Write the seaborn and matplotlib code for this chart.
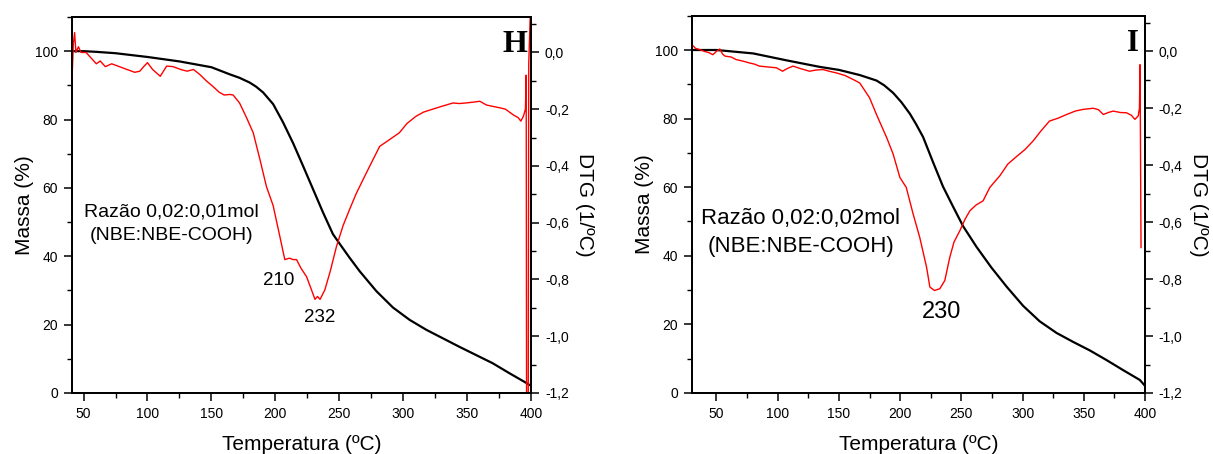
import matplotlib.pyplot as plt
import seaborn as sns
from matplotlib.ticker import MultipleLocator, FuncFormatter

# Panel H - TG (black, left axis) and DTG (red, right axis)
h_tg_temp = [41, 50, 60, 75, 100, 125, 150, 164.5, 172, 180, 185, 190.5, 198.3, 206,
             214, 221.7, 229.5, 237.3, 245, 250.4, 258, 266, 279, 292, 305, 318, 331,
             344, 357, 370, 383, 396, 399]
h_tg_mass = [100, 100, 99.8, 99.4, 98.3, 97, 95.3, 93.2, 92.2, 90.8, 89.6, 87.9, 84.5,
             79.2, 73.0, 66.4, 59.6, 52.8, 46.5, 43.6, 39.6, 35.6, 29.8, 25.0, 21.4,
             18.5, 16.0, 13.5, 11.1, 8.7, 5.8, 3.0, 2.3]

h_dtg_temp = [41, 42, 43, 44, 46, 48, 52, 56, 60, 63, 67, 72, 78, 84, 90, 94, 97, 100,
              104, 110, 115, 120, 126, 131, 136, 141, 146, 151, 156, 160, 164.5, 167,
              172, 177.5, 182.7, 188, 193, 198.3, 203.5, 207.4, 211, 214, 216.6, 220,
              224.4, 228.3, 231, 233, 235, 238.7, 243, 247.8, 253, 258, 263, 268.6,
              275, 281.6, 290, 297, 303, 310, 316, 323, 330, 339, 344, 349, 355, 360,
              365, 370, 375.6, 380, 385.8, 390, 392, 394, 395.6, 396.2, 396.5, 397.8,
              398.2, 399.5]
h_dtg_val = [-0.09, 0.03, 0.07, 0.0, 0.02, 0.0, 0.0, -0.02, -0.04, -0.03, -0.05, -0.04,
             -0.05, -0.06, -0.07, -0.066, -0.05, -0.036, -0.06, -0.084, -0.048, -0.05,
             -0.06, -0.066, -0.06, -0.078, -0.1, -0.119, -0.14, -0.15, -0.148, -0.15,
             -0.178, -0.23, -0.283, -0.378, -0.472, -0.54, -0.648, -0.73, -0.725,
             -0.73, -0.73, -0.76, -0.79, -0.837, -0.87, -0.86, -0.87, -0.837, -0.77,
             -0.684, -0.61, -0.554, -0.5, -0.448, -0.39, -0.331, -0.305, -0.283, -0.25,
             -0.225, -0.21, -0.2, -0.19, -0.178, -0.18, -0.178, -0.175, -0.172, -0.185,
             -0.19, -0.195, -0.2, -0.219, -0.23, -0.242, -0.225, -0.2, -0.08, -1.25,
             -1.25, -0.04, 0.15]

# Panel I
i_tg_temp = [30, 50, 80, 107, 134, 150, 167, 180.7, 187, 194.3, 201, 208, 213, 218.8,
             227, 235, 243.3, 251.5, 262.4, 274.5, 287, 300.5, 314, 327.8, 341.3, 355,
             368.6, 382, 395.8, 400]
i_tg_mass = [100, 100, 99, 97, 95.1, 94.2, 92.7, 91.1, 89.7, 87.5, 84.8, 81.4, 78.4,
             74.6, 67.2, 60.2, 54.3, 48.6, 42.6, 36.6, 31.0, 25.4, 20.9, 17.5, 14.9,
             12.4, 9.6, 6.7, 3.8, 2.1]

i_dtg_temp = [30, 33, 36.4, 40, 44, 47, 50, 52.7, 55, 57, 62, 66, 72, 77, 81, 85, 92,
              99, 104, 108, 112.6, 118, 126, 131, 137, 142, 148, 155, 161.6, 167, 175,
              180.7, 189, 194.3, 199.8, 205, 210.6, 216, 221.6, 224.3, 228, 232.4,
              236.5, 240.6, 244, 248.8, 253, 257, 262, 267.8, 273.3, 281.5, 288, 295,
              302, 308.6, 315, 322, 329, 336, 343, 349.5, 357.7, 362, 366, 370, 374,
              380, 385, 389, 391.8, 394.5, 395.5, 396, 396.8]
i_dtg_val = [0.023, 0.01, 0.006, 0.0, -0.005, -0.012, 0.0, 0.008, -0.01, -0.017, -0.02,
             -0.029, -0.035, -0.041, -0.045, -0.052, -0.055, -0.058, -0.07, -0.06,
             -0.052, -0.06, -0.07, -0.066, -0.064, -0.07, -0.076, -0.085, -0.099,
             -0.111, -0.163, -0.222, -0.303, -0.361, -0.443, -0.478, -0.571, -0.653,
             -0.758, -0.828, -0.84, -0.834, -0.805, -0.723, -0.67, -0.63, -0.59, -0.56,
             -0.54, -0.525, -0.478, -0.437, -0.396, -0.37, -0.345, -0.315, -0.28,
             -0.245, -0.235, -0.222, -0.21, -0.204, -0.2, -0.205, -0.222, -0.215,
             -0.21, -0.215, -0.216, -0.225, -0.239, -0.227, -0.2, -0.047, -0.69]

sns.set_style("ticks")
plt.rcParams["font.family"] = ["Liberation Sans", "DejaVu Sans"]
plt.rcParams["text.color"] = "black"
plt.rcParams["axes.labelcolor"] = "black"
plt.rcParams["xtick.color"] = "black"
plt.rcParams["ytick.color"] = "black"


def comma(v, pos):
    v = round(v, 1) + 0.0
    return f"{v:.1f}".replace(".", ",")


def style_ticks(ax):
    ax.tick_params(which="major", direction="out", length=6, width=1.1,
                   labelsize=10, colors="black", pad=4)
    ax.tick_params(which="minor", direction="out", length=3.5, width=1.0,
                   color="black")


def draw_panel(fig, rect, xlim, tg_t, tg_m, dtg_t, dtg_v):
    ax = fig.add_axes(rect)
    sns.lineplot(x=tg_t, y=tg_m, ax=ax, color="black", lw=1.6,
                 sort=False, estimator=None)
    ax.set_xlim(*xlim)
    ax.set_ylim(0, 110)
    ax.xaxis.set_major_locator(MultipleLocator(50))
    ax.xaxis.set_minor_locator(MultipleLocator(25))
    ax.yaxis.set_major_locator(MultipleLocator(20))
    ax.yaxis.set_minor_locator(MultipleLocator(10))
    ax.set_xlabel("Temperatura (ºC)", fontsize=15, labelpad=10)
    ax.set_ylabel("Massa (%)", fontsize=15, labelpad=1)
    style_ticks(ax)

    ax2 = ax.twinx()
    sns.lineplot(x=dtg_t, y=dtg_v, ax=ax2, color="#ff0000", lw=1.0,
                 sort=False, estimator=None)
    ax2.set_ylim(-1.2, 0.125)
    ax2.yaxis.set_major_locator(MultipleLocator(0.2))
    ax2.yaxis.set_minor_locator(MultipleLocator(0.1))
    ax2.yaxis.set_major_formatter(FuncFormatter(comma))
    ax2.set_ylabel("DTG (1/ºC)", fontsize=15, rotation=270, labelpad=18)
    style_ticks(ax2)
    for a in (ax, ax2):
        for s in a.spines.values():
            s.set_visible(True)
            s.set_linewidth(1.3)
            s.set_color("black")
    return ax, ax2


fig = plt.figure(figsize=(12.13, 4.54), dpi=100)

axh, axh2 = draw_panel(fig, [0.0594, 0.1344, 0.3784, 0.8282], (41, 400),
                       h_tg_temp, h_tg_mass, h_dtg_temp, h_dtg_val)
axh.text(118.8, 52.9, "Razão 0,02:0,01mol", fontsize=14, ha="center", va="center")
axh.text(118.8, 46.2, "(NBE:NBE-COOH)", fontsize=14, ha="center", va="center")
axh.text(202.7, 33, "210", fontsize=13.5, ha="center", va="center")
axh.text(234.8, 22.2, "232", fontsize=13.5, ha="center", va="center")
axh.text(387.5, 102, "H", fontsize=23, fontweight="bold", ha="center", va="center",
         family=["Liberation Serif"])

axi, axi2 = draw_panel(fig, [0.5705, 0.1344, 0.3734, 0.8310], (30, 400),
                       i_tg_temp, i_tg_mass, i_dtg_temp, i_dtg_val)
axi.text(118.9, 51, "Razão 0,02:0,02mol", fontsize=16, ha="center", va="center")
axi.text(118.9, 42.7, "(NBE:NBE-COOH)", fontsize=16, ha="center", va="center")
axi.text(233.8, 23.7, "230", fontsize=17, ha="center", va="center")
axi.text(390.5, 102, "I", fontsize=22, fontweight="bold", ha="center", va="center",
         family=["Liberation Serif"])

fig.savefig("out.png", dpi=100)
